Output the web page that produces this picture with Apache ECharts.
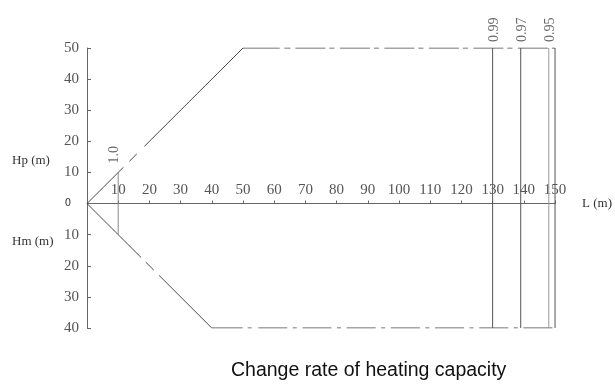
<!DOCTYPE html>
<html>
<head>
<meta charset="utf-8">
<script src="https://cdn.jsdelivr.net/npm/echarts@6/dist/echarts.min.js"></script>
<style>
  html, body { margin: 0; padding: 0; background: #fff; }
  #main { width: 615px; height: 387px; }
</style>
</head>
<body>
<div id="main"></div>
<script>
// envelope of allowed height difference vs pipe length
const upperEnvelope = [[0, 0], [50, 50], [150, 50]];
const lowerEnvelope = [[0, 0], [40, -40], [150, -40]];
// correction lines (pipe length) and their rates
const rateLengths = [130, 139, 148];
const rateLabels = ['0.99', '0.97', '0.95'];
const maxLength = 150;
const heightMin = -40;
const heightMax = 50;
// short base line at 10 m
const baseLength = 10;
const baseRange = [-10, 10];
const baseLabel = '1.0';

const serif = 'Liberation Serif';
const lineColor = '#4a4a4a';
const gridTop = 48, gridBottom = 59, chartHeight = 387;
// move the L axis up to the zero line
const plotHeight = chartHeight - gridTop - gridBottom;
const zeroOffset = -plotHeight * (0 - heightMin) / (heightMax - heightMin);

// dash patterns (pixels along the path) copied from the drawing's line type
function dashPattern(prefix, period, count) {
  let out = prefix.slice();
  for (let i = 0; i < count; i++) out = out.concat(period);
  return out;
}
const upperDash = dashPattern([51.5, 8.4, 10.4, 10.7, 176, 4.7, 6, 5], [30, 4, 5, 5.5], 7);
const lowerDash = dashPattern([76.4, 6.6, 11.3, 7.5, 105.3, 5, 4, 6.6], [29, 5.5, 4, 5.7], 8);

let myChart = echarts.init(document.getElementById('main'));

const verticals = rateLengths.concat([maxLength]).map(x => ({
  type: 'line',
  data: [[x, heightMin], [x, heightMax]],
  symbol: 'none',
  silent: true,
  lineStyle: { color: x === 148 ? '#9a9a9a' : '#555', width: 1 }
}));

myChart.setOption({
  animation: false,
  title: {
    text: 'Change rate of heating capacity',
    left: 226,
    top: 356,
    textStyle: { fontFamily: 'Liberation Sans', fontSize: 19.5, fontWeight: 'normal', color: '#111' }
  },
  grid: { left: 87, right: 59, top: gridTop, bottom: gridBottom },
  xAxis: {
    type: 'value',
    min: 0,
    max: maxLength,
    interval: 10,
    offset: zeroOffset,
    name: 'L (m)',
    nameLocation: 'end',
    nameGap: 27,
    nameTextStyle: { fontFamily: serif, fontSize: 13, color: '#333' },
    axisLine: { onZero: false, lineStyle: { color: '#666' } },
    axisTick: { show: true, inside: true, length: 3, lineStyle: { color: '#666' } },
    axisLabel: {
      inside: true,
      margin: 6,
      fontFamily: serif,
      fontSize: 15,
      color: '#555',
      formatter: v => (v === 0 ? '' : String(v))
    },
    splitLine: { show: false }
  },
  yAxis: {
    type: 'value',
    min: heightMin,
    max: heightMax,
    interval: 10,
    axisLine: { show: true, lineStyle: { color: '#666' } },
    axisTick: { show: true, inside: true, length: 4, lineStyle: { color: '#666' } },
    axisLabel: {
      margin: 8,
      fontFamily: serif,
      fontSize: 15,
      color: '#555',
      formatter: v => (v === 0 ? '{z|0}' : String(Math.abs(v))),
      rich: { z: { fontFamily: 'DejaVu Sans', fontSize: 10, color: '#333', padding: [0, 8, 0, 0] } }
    },
    splitLine: { show: false }
  },
  graphic: [
    { type: 'text', left: 12, top: 154, style: { text: 'Hp (m)', font: '13px "Liberation Serif"', fill: '#333' } },
    { type: 'text', left: 12, top: 235, style: { text: 'Hm (m)', font: '13px "Liberation Serif"', fill: '#333' } }
  ],
  series: [
    {
      type: 'line',
      data: upperEnvelope,
      symbol: 'none',
      lineStyle: { color: lineColor, width: 1, type: upperDash }
    },
    {
      type: 'line',
      data: lowerEnvelope,
      symbol: 'none',
      lineStyle: { color: lineColor, width: 1, type: lowerDash }
    },
    {
      type: 'line',
      data: [[baseLength, baseRange[0]], [baseLength, baseRange[1]]],
      symbol: 'none',
      lineStyle: { color: '#888', width: 1 }
    },
    ...verticals,
    {
      type: 'scatter',
      symbolSize: 0,
      data: rateLengths.map((x, i) => [x, heightMax, rateLabels[i]]),
      label: {
        show: true,
        formatter: p => p.value[2],
        position: [2, -6],
        rotate: 90,
        align: 'left',
        verticalAlign: 'middle',
        fontFamily: serif,
        fontSize: 14,
        color: '#444'
      }
    },
    {
      type: 'scatter',
      symbolSize: 0,
      data: [[baseLength, baseRange[1], baseLabel]],
      label: {
        show: true,
        formatter: p => p.value[2],
        position: [-4, -9],
        rotate: 90,
        align: 'left',
        verticalAlign: 'middle',
        fontFamily: serif,
        fontSize: 14,
        color: '#444'
      }
    }
  ]
});
</script>
</body>
</html>
